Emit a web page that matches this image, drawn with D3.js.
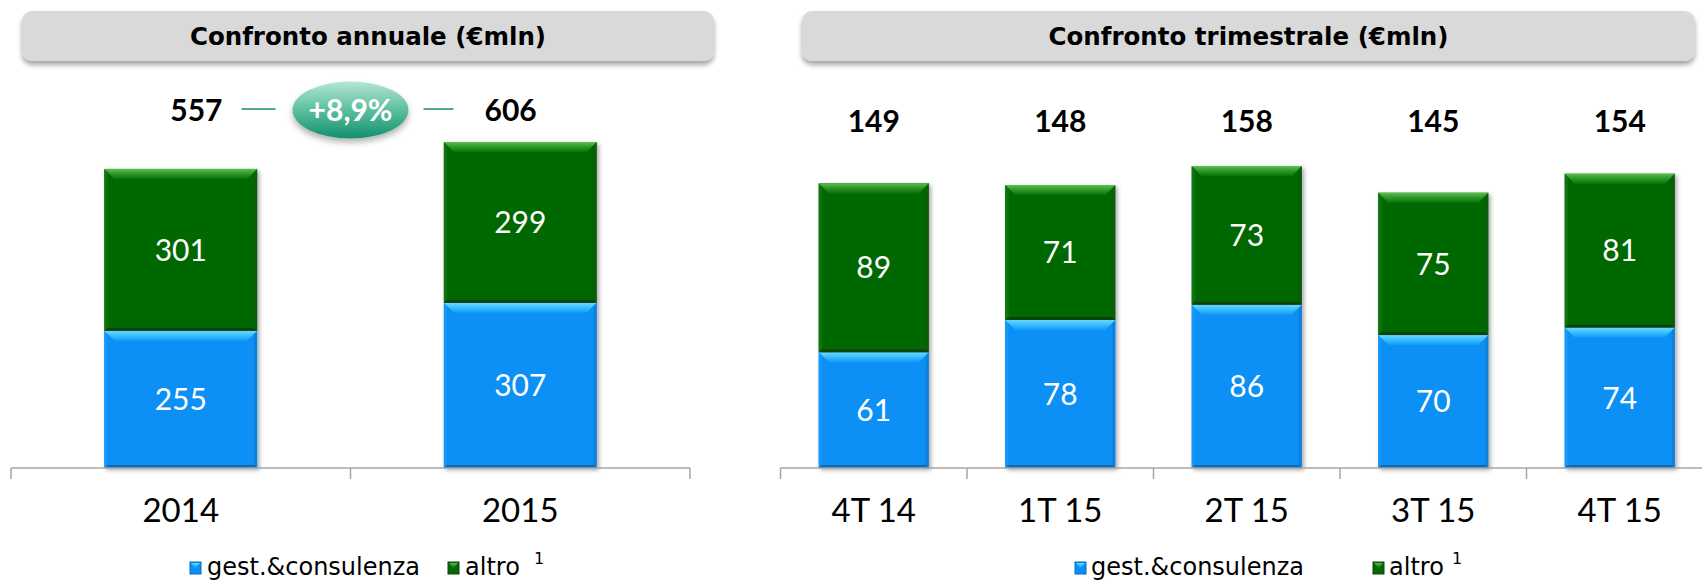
<!DOCTYPE html>
<html><head><meta charset="utf-8">
<script src="https://cdn.jsdelivr.net/npm/d3@7"></script>
<style>body{margin:0;background:#fff}svg{display:block}</style>
</head><body>
<svg id="chart" width="1702" height="580"></svg>
<script>
// ---- data ----
const annualCategories = ["2014", "2015"];
const annualGest = [255, 307];
const annualAltro = [301, 299];
const annualTotals = [557, 606];
const annualGrowth = "+8,9%";
const quarterCategories = ["4T 14", "1T 15", "2T 15", "3T 15", "4T 15"];
const quarterGest = [61, 78, 86, 70, 74];
const quarterAltro = [89, 71, 73, 75, 81];
const quarterTotals = [149, 148, 158, 145, 154];
const seriesNames = ["gest.&consulenza", "altro"];
const footnoteMark = "1";
const titles = ["Confronto annuale (€mln)", "Confronto trimestrale (€mln)"];

const svg = d3.select("#chart");
const defs = svg.append("defs");

function shadow(id, dx, dy, sd, op) {
  const f = defs.append("filter").attr("id", id)
    .attr("x", "-20%").attr("y", "-20%").attr("width", "150%").attr("height", "150%");
  f.append("feDropShadow").attr("dx", dx).attr("dy", dy).attr("stdDeviation", sd)
    .attr("flood-color", "#000").attr("flood-opacity", op);
}
shadow("barShadow", 2, 2, 2, 0.35);
shadow("boxShadow", 0, 4, 2.5, 0.35);
shadow("ellShadow", 0, 4, 3, 0.3);

function lin(id, stops) {
  const g = defs.append("linearGradient").attr("id", id)
    .attr("x1", 0).attr("y1", 0).attr("x2", 0).attr("y2", 1);
  stops.forEach(s => g.append("stop").attr("offset", s[0]).attr("stop-color", s[1]));
}
lin("greenTop", [[0, "#5cbf4f"], [0.45, "#2f9a2a"], [1, "#0b7208"]]);
lin("blueTop", [[0, "#6ad8ff"], [0.45, "#3cc0ff"], [1, "#1499f8"]]);
lin("ellGrad", [[0, "#b4e6d4"], [0.5, "#5cbf9f"], [1, "#12906d"]]);

const palette = {
  altro: { main: "#066806", top: "url(#greenTop)", side: "#0a5c0a", bottom: "#0c420c", light: "#0d740d" },
  gest:  { main: "#0790f6", top: "url(#blueTop)", side: "#0b80dc", bottom: "#0a68b8", light: "#1898f8" }
};

function bevelBar(g, x, yTop, yBot, w, pal) {
  const h = yBot - yTop;
  const b = Math.min(10, h / 3);
  const grp = g.append("g");
  grp.append("rect").attr("x", x).attr("y", yTop).attr("width", w).attr("height", h).attr("fill", pal.main);
  grp.append("polygon").attr("points", [[x, yTop], [x + 3, yTop + 3], [x + 3, yBot - 3], [x, yBot]].join(" "))
    .attr("fill", pal.light);
  grp.append("polygon").attr("points", [[x + w, yTop], [x + w - 3, yTop + 3], [x + w - 3, yBot - 3], [x + w, yBot]].join(" "))
    .attr("fill", pal.side);
  grp.append("polygon").attr("points", [[x, yBot], [x + 3, yBot - 3], [x + w - 3, yBot - 3], [x + w, yBot]].join(" "))
    .attr("fill", pal.bottom);
  grp.append("polygon").attr("points", [[x, yTop], [x + w, yTop], [x + w - b, yTop + b], [x + b, yTop + b]].join(" "))
    .attr("fill", pal.top);
}

function panel(opts) {
  const { cats, gest, altro, totals, x0, x1, y, barRatio, boxX0, boxX1, title, totalY, legend } = opts;
  const g = svg.append("g");
  g.append("rect").attr("x", boxX0).attr("y", 11).attr("width", boxX1 - boxX0).attr("height", 50)
    .attr("rx", 10).attr("fill", "#d9d9d9").attr("filter", "url(#boxShadow)");
  g.append("text").attr("x", (boxX0 + boxX1) / 2).attr("y", 45).attr("text-anchor", "middle")
    .attr("font-family", "DejaVu Sans").attr("font-weight", "bold").attr("font-size", 24.5)
    .attr("fill", "#000").text(title);

  const x = d3.scaleBand().domain(cats).range([x0, x1]).padding(0);
  const bw = x.bandwidth() * barRatio;
  const bx = c => x(c) + (x.bandwidth() - bw) / 2;

  const bars = g.append("g").attr("filter", "url(#barShadow)");
  cats.forEach((c, i) => {
    const yg = y(gest[i]);
    const ya = y(gest[i] + altro[i]);
    bevelBar(bars, bx(c), yg, y(0), bw, palette.gest);
    bevelBar(bars, bx(c), ya, yg, bw, palette.altro);
  });

  cats.forEach((c, i) => {
    const cx = x(c) + x.bandwidth() / 2;
    [[0, gest[i]], [gest[i], gest[i] + altro[i]]].forEach((seg, k) => {
      g.append("text").attr("x", cx).attr("y", (y(seg[0]) + y(seg[1])) / 2)
        .attr("dy", "0.36em").attr("text-anchor", "middle")
        .attr("font-family", "Lato").attr("font-size", 30).attr("fill", "#fff")
        .text(k === 0 ? gest[i] : altro[i]);
    });
  });

  const base = y(0);
  const axis = g.append("g").attr("transform", `translate(0,${base})`)
    .call(d3.axisBottom(x).tickSize(0).tickPadding(0));
  axis.select(".domain").remove();
  axis.selectAll("text").attr("y", 54).attr("dy", 0)
    .attr("font-family", "Lato").attr("font-size", 33).attr("fill", "#000");
  g.append("line").attr("x1", x0).attr("x2", x1).attr("y1", base).attr("y2", base)
    .attr("stroke", "#a6a6a6").attr("stroke-width", 1.5);
  const bounds = cats.map(c => x(c)).concat([x1]);
  g.selectAll(null).data(bounds).join("line")
    .attr("x1", d => d).attr("x2", d => d).attr("y1", base).attr("y2", base + 11)
    .attr("stroke", "#a6a6a6").attr("stroke-width", 1.5);

  if (totalY !== null) {
    cats.forEach((c, i) => {
      g.append("text").attr("x", x(c) + x.bandwidth() / 2).attr("y", totalY)
        .attr("text-anchor", "middle").attr("font-family", "Lato").attr("font-weight", "bold")
        .attr("font-size", 30).attr("fill", "#000").text(totals[i]);
    });
  }

  const lg = g.append("g");
  const sq = (xx, pal) => {
    lg.append("rect").attr("x", xx).attr("y", 562).attr("width", 11).attr("height", 12)
      .attr("fill", pal.main).attr("stroke", pal.bottom).attr("stroke-width", 1);
    lg.append("polygon").attr("points", [[xx + 1, 563], [xx + 10, 563], [xx + 5.5, 568]].join(" "))
      .attr("fill", pal.top);
  };
  sq(legend.sq1, palette.gest);
  lg.append("text").attr("x", legend.t1).attr("y", 575).attr("font-family", "DejaVu Sans")
    .attr("font-size", 24).attr("fill", "#000").text(seriesNames[0]);
  sq(legend.sq2, palette.altro);
  lg.append("text").attr("x", legend.t2).attr("y", 575).attr("font-family", "DejaVu Sans")
    .attr("font-size", 24).attr("fill", "#000").text(seriesNames[1]);
  lg.append("text").attr("x", legend.sup).attr("y", 564).attr("font-family", "DejaVu Sans")
    .attr("font-size", 16).attr("fill", "#000").text(footnoteMark);

  return { x, y };
}

// ---- left panel ----
const yA = d3.scaleLinear().domain([0, d3.max(annualTotals)]).range([468, 142]);
const left = panel({
  cats: annualCategories, gest: annualGest, altro: annualAltro, totals: annualTotals,
  x0: 11, x1: 690, y: yA, barRatio: 0.45, boxX0: 22, boxX1: 714, title: titles[0], totalY: null,
  legend: { sq1: 190, t1: 207, sq2: 448, t2: 465, sup: 534 }
});

const xa = left.x;
const c0 = xa(annualCategories[0]) + xa.bandwidth() / 2;
const c1 = xa(annualCategories[1]) + xa.bandwidth() / 2;
const mid = (c0 + c1) / 2;
const ann = svg.append("g");
ann.append("text").attr("x", mid - 128).attr("y", 121).attr("text-anchor", "end")
  .attr("font-family", "Lato").attr("font-weight", "bold").attr("font-size", 30).text(annualTotals[0]);
ann.append("text").attr("x", mid + 134).attr("y", 121).attr("text-anchor", "start")
  .attr("font-family", "Lato").attr("font-weight", "bold").attr("font-size", 30).text(annualTotals[1]);
ann.append("line").attr("x1", mid - 109).attr("x2", mid - 75).attr("y1", 109).attr("y2", 109)
  .attr("stroke", "#1a8a6a").attr("stroke-width", 1.5);
ann.append("line").attr("x1", mid + 73).attr("x2", mid + 103).attr("y1", 109).attr("y2", 109)
  .attr("stroke", "#1a8a6a").attr("stroke-width", 1.5);
ann.append("ellipse").attr("cx", mid).attr("cy", 110).attr("rx", 58).attr("ry", 28.5)
  .attr("fill", "url(#ellGrad)").attr("filter", "url(#ellShadow)");
ann.append("text").attr("x", mid).attr("y", 121).attr("text-anchor", "middle")
  .attr("font-family", "Lato").attr("font-weight", "bold").attr("font-size", 30)
  .attr("fill", "#fff").text(annualGrowth);

// ---- right panel ----
const yQ = d3.scaleLinear().domain([0, d3.max(quarterTotals)]).range([468, 168]);
panel({
  cats: quarterCategories, gest: quarterGest, altro: quarterAltro, totals: quarterTotals,
  x0: 780.5, x1: 1713, y: yQ, barRatio: 0.59, boxX0: 802, boxX1: 1695, title: titles[1], totalY: 132,
  legend: { sq1: 1075, t1: 1091, sq2: 1373, t2: 1389, sup: 1452 }
});
</script>
</body></html>
